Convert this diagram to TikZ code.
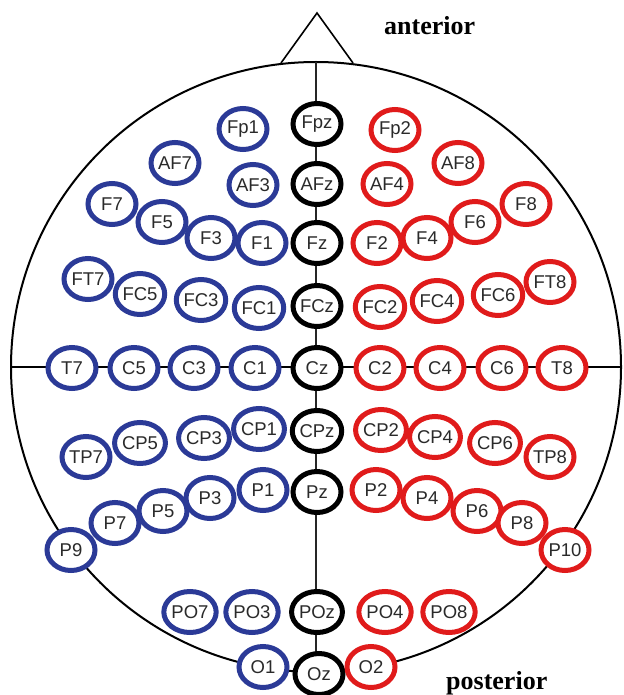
\documentclass[tikz,border=0pt]{standalone}
\usepackage{fontspec}
\setmainfont{Liberation Serif}
\newfontfamily\elfont{Liberation Sans}
\usetikzlibrary{shapes.geometric}
\definecolor{elblue}{HTML}{2B3A97}
\definecolor{elred}{HTML}{E01B1B}
\definecolor{eltext}{HTML}{2A2A2A}
\tikzset{
  electrode/.style={ellipse, draw, line width=5pt, minimum width=48pt, minimum height=41pt,
    inner sep=0pt, fill=white, text=eltext, font=\elfont\fontsize{18.5}{19}\selectfont},
  leftel/.style={electrode, draw=elblue},
  rightel/.style={electrode, draw=elred},
  midel/.style={electrode, draw=black},
  headline/.style={draw=black, line width=2pt},
  midline/.style={draw=black!85, line width=1.5pt},
  label/.style={font=\bfseries\fontsize{26}{28}\selectfont, inner sep=0pt}
}
\begin{document}
\begin{tikzpicture}[x=1pt,y=-1pt]
\useasboundingbox (0,0) rectangle (623,695);
\fill[white] (0,0) rectangle (623,695);
% head
\coordinate (c) at (316,367);
\coordinate (top) at (316,62);
\coordinate (bot) at (316,672);
\coordinate (lft) at (11,367);
\coordinate (rgt) at (621,367);
\coordinate (noseL) at (281,63);
\coordinate (noseT) at (317,13);
\coordinate (noseR) at (353,63);
\draw[headline] (c) circle[radius=305pt];
\draw[headline, line width=1.6pt, line join=miter] (noseL) -- (noseT) -- (noseR);
\draw[headline] (lft) -- (rgt);
\draw[midline] (top) -- (bot);
% midline electrodes
\foreach \n/\x/\y in {Fpz/317/124, AFz/317/184, Fz/317/243, FCz/317/306, Cz/317/368,
  CPz/317/431, Pz/317/492, POz/317/612, Oz/319/674}
  \node[midel] (\n) at (\x,\y) {\n};
% left electrodes
\foreach \n/\x/\y in {Fp1/243/129, AF7/175/163, AF3/253/185, F7/112/204, F5/162/222,
  F3/211/238, F1/262/243, FT7/88/279, FC5/140/294, FC3/201/300, FC1/259/308,
  T7/72/368, C5/134/368, C3/194/368, C1/255/368, TP7/86/457, CP5/140/443,
  CP3/204/438, CP1/259/429, P9/71/550, P7/115/523, P5/163/511, P3/210/498,
  P1/263/490, PO7/190/612, PO3/252/612, O1/263/667}
  \node[leftel] (\n) at (\x,\y) {\n};
% right electrodes
\foreach \n/\x/\y in {Fp2/395/130, AF8/458/163, AF4/387/184, F8/526/204, F6/475/222,
  F4/427/238, F2/377/243, FT8/550/282, FC6/498/295, FC4/437/301, FC2/380/307,
  C2/380/368, C4/440/368, C6/502/368, T8/562/368, CP2/381/430, CP4/435/437,
  CP6/495/443, TP8/550/457, P2/376/490, P4/427/498, P6/477/511, P8/522/523,
  P10/565/550, PO4/385/612, PO8/449/612, O2/371/667}
  \node[rightel] (\n) at (\x,\y) {\n};
% labels
\node[label, anchor=base west] (ant) at (384,35) {anterior};
\node[label, anchor=base west] (post) at (446,689) {posterior};
\end{tikzpicture}
\end{document}
